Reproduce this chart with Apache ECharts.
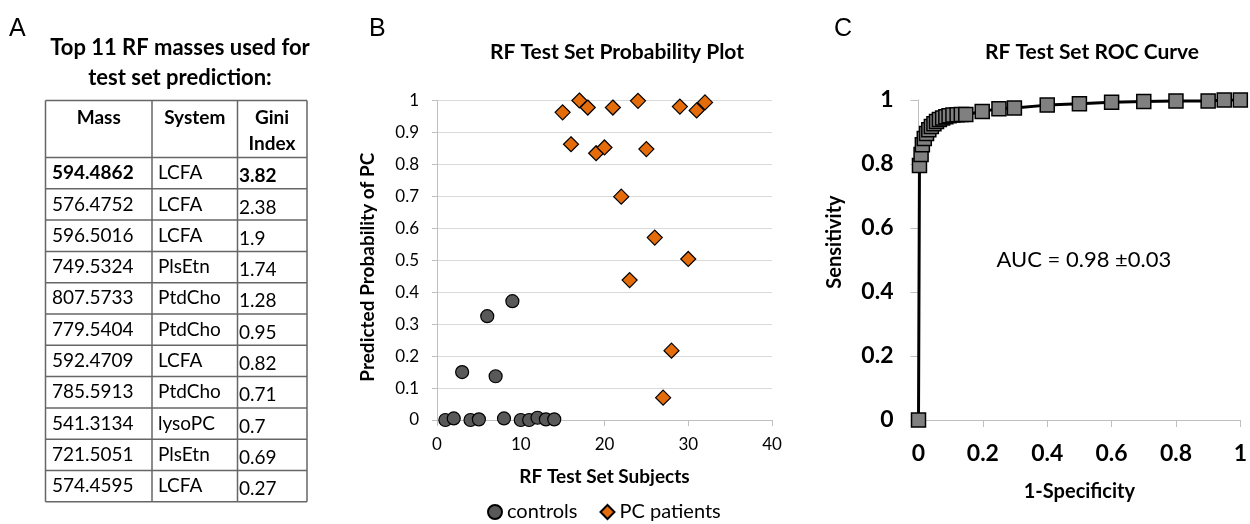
<!DOCTYPE html>
<html>
<head>
<meta charset="utf-8">
<script src="https://cdn.jsdelivr.net/npm/echarts@6/dist/echarts.min.js"></script>
<style>
  html, body { margin: 0; padding: 0; background: #fff; }
  #chart { width: 1250px; height: 524px; }
</style>
</head>
<body>
<div id="chart"></div>
<script>
// panel A table
const massValues = ['594.4862', '576.4752', '596.5016', '749.5324', '807.5733', '779.5404',
  '592.4709', '785.5913', '541.3134', '721.5051', '574.4595']
const systemValues = ['LCFA', 'LCFA', 'LCFA', 'PlsEtn', 'PtdCho', 'PtdCho',
  'LCFA', 'PtdCho', 'lysoPC', 'PlsEtn', 'LCFA']
const giniValues = ['3.82', '2.38', '1.9', '1.74', '1.28', '0.95', '0.82', '0.71', '0.7', '0.69', '0.27']

// panel B: subject index and predicted probability
const controlX = [1, 2, 3, 4, 5, 6, 7, 8, 9, 10, 11, 12, 13, 14]
const controlY = [0, 0.005, 0.15, 0, 0.002, 0.325, 0.137, 0.005, 0.372, 0, 0, 0.007, 0.002, 0.002]
const patientX = [15, 16, 17, 18, 19, 20, 21, 22, 23, 24, 25, 26, 27, 28, 29, 30, 31, 32]
const patientY = [0.963, 0.863, 1.0, 0.978, 0.835, 0.853, 0.978, 0.699, 0.438, 0.999,
  0.848, 0.571, 0.07, 0.217, 0.981, 0.504, 0.969, 0.994]

// panel C: ROC curve
const rocFpr = [0, 0.003, 0.008, 0.012, 0.018, 0.025, 0.032, 0.04, 0.048, 0.056, 0.065, 0.075,
  0.085, 0.095, 0.107, 0.12, 0.133, 0.147, 0.198, 0.25, 0.298, 0.4, 0.5, 0.6, 0.7, 0.8, 0.9, 0.95, 1.0]
const rocTpr = [0, 0.795, 0.83, 0.86, 0.88, 0.895, 0.907, 0.917, 0.926, 0.933, 0.939, 0.944,
  0.948, 0.951, 0.953, 0.954, 0.955, 0.955, 0.964, 0.973, 0.975, 0.984, 0.988, 0.993, 0.995,
  0.997, 0.997, 1.0, 1.0]

const FONT = 'Lato'
const zip = (xs, ys) => xs.map((x, i) => [x, ys[i]])

// build the table out of graphic elements
const buildTable = () => {
  const cols = [45.5, 152, 237.5, 307]
  const top = 100.5
  const headH = 57
  const rowH = 31.3
  const bottom = top + headH + rowH * massValues.length
  const line = { stroke: '#666', lineWidth: 1.5 }
  const els = []
  cols.forEach(x => els.push({ type: 'line', shape: { x1: x, y1: top, x2: x, y2: bottom }, style: line }))
  for (let i = 0; i <= massValues.length + 1; i++) {
    const y = i === 0 ? top : top + headH + rowH * (i - 1)
    els.push({ type: 'line', shape: { x1: cols[0], y1: y, x2: cols[3], y2: y }, style: line })
  }
  const head = (text, x, y) => ({
    type: 'text', x, y,
    style: { text, font: `bold 19px ${FONT}`, fill: '#000', align: 'center', verticalAlign: 'middle' }
  })
  els.push(head('Mass', 98.75, 118), head('System', 194.75, 118), head('Gini', 272, 118), head('Index', 272, 144))
  massValues.forEach((m, i) => {
    const cy = top + headH + rowH * i + rowH / 2
    const bold = i === 0 ? 'bold ' : ''
    const cell = (text, x, dy, b) => ({
      type: 'text', x, y: cy + dy,
      style: { text, font: `${b}19px ${FONT}`, fill: '#000', align: 'left', verticalAlign: 'middle' }
    })
    els.push(cell(m, 52, 0, bold), cell(systemValues[i], 158, 0, ''), cell(giniValues[i], 239, 3, bold))
  })
  const title = (text, y) => ({
    type: 'text', x: 180, y,
    style: { text, font: `bold 22px ${FONT}`, fill: '#000', align: 'center', verticalAlign: 'middle' }
  })
  els.push(title('Top 11 RF masses used for', 48), title('test set prediction:', 78))
  const letter = (text, x) => ({
    type: 'text', x, y: 29,
    style: { text, font: '25px "Liberation Sans"', fill: '#000', align: 'left', verticalAlign: 'middle' }
  })
  els.push(letter('A', 9), letter('B', 369), letter('C', 834))
  return els
}

const chart = echarts.init(document.getElementById('chart'))

const option = {
  animation: false,
  textStyle: { fontFamily: FONT, color: '#000' },
  title: [
    { text: 'RF Test Set Probability Plot', left: 612, top: 37, textAlign: 'center',
      textStyle: { fontFamily: FONT, fontSize: 21, fontWeight: 'bold', color: '#000' } },
    { text: 'RF Test Set ROC Curve', left: 1087, top: 37, textAlign: 'center',
      textStyle: { fontFamily: FONT, fontSize: 21, fontWeight: 'bold', color: '#000' } }
  ],
  legend: {
    data: ['controls', 'PC patients'],
    left: 482, top: 497,
    itemWidth: 14, itemHeight: 14, itemGap: 22,
    textStyle: { fontFamily: FONT, fontSize: 20, color: '#000' }
  },
  grid: [
    { left: 437, right: 478, top: 100.5, bottom: 104 },
    { left: 918.5, right: 3.5, top: 100, bottom: 104 }
  ],
  xAxis: [
    {
      gridIndex: 0, type: 'value', min: 0, max: 40, interval: 10,
      name: 'RF Test Set Subjects', nameLocation: 'middle', nameGap: 47,
      nameTextStyle: { fontSize: 19, fontWeight: 'bold', color: '#000' },
      axisLine: { lineStyle: { color: '#bfbfbf', width: 1 } },
      axisTick: { show: true, length: 6, lineStyle: { color: '#bfbfbf' } },
      axisLabel: { fontSize: 17, color: '#000', margin: 16 },
      splitLine: { show: false }
    },
    {
      gridIndex: 1, type: 'value', min: 0, max: 1, interval: 0.2,
      name: '1-Specificity', nameLocation: 'middle', nameGap: 62,
      nameTextStyle: { fontSize: 20, fontWeight: 'bold', color: '#000' },
      axisLine: { lineStyle: { color: '#bfbfbf', width: 1 } },
      axisTick: { show: true, length: 7, lineStyle: { color: '#bfbfbf' } },
      axisLabel: { fontSize: 23, fontWeight: 'bold', color: '#000', margin: 22 },
      splitLine: { show: false }
    }
  ],
  yAxis: [
    {
      gridIndex: 0, type: 'value', min: 0, max: 1, interval: 0.1,
      name: 'Predicted Probability of PC', nameLocation: 'middle', nameGap: 60,
      nameTextStyle: { fontSize: 19, fontWeight: 'bold', color: '#000', padding: [0, 14, 0, 0] },
      axisLine: { show: true, lineStyle: { color: '#bfbfbf', width: 1 } },
      axisTick: { show: true, length: 5, lineStyle: { color: '#bfbfbf' } },
      axisLabel: { fontSize: 17, color: '#000', margin: 18 },
      splitLine: { show: true, lineStyle: { color: '#d9d9d9', width: 1 } }
    },
    {
      gridIndex: 1, type: 'value', min: 0, max: 1, interval: 0.2,
      name: 'Sensitivity', nameLocation: 'middle', nameGap: 74,
      nameTextStyle: { fontSize: 20, fontWeight: 'bold', color: '#000', padding: [0, 0, 0, 36] },
      axisLine: { show: true, lineStyle: { color: '#bfbfbf', width: 1 } },
      axisTick: { show: true, length: 8, lineStyle: { color: '#bfbfbf' } },
      axisLabel: { fontSize: 23, fontWeight: 'bold', color: '#000', margin: 25 },
      splitLine: { show: false }
    }
  ],
  series: [
    {
      name: 'controls', type: 'scatter', xAxisIndex: 0, yAxisIndex: 0,
      data: zip(controlX, controlY),
      symbol: 'circle', symbolSize: 13,
      itemStyle: { color: '#595959', borderColor: '#000', borderWidth: 1.2, opacity: 1 }
    },
    {
      name: 'PC patients', type: 'scatter', xAxisIndex: 0, yAxisIndex: 0,
      data: zip(patientX, patientY),
      symbol: 'diamond', symbolSize: 15,
      itemStyle: { color: '#e46c0a', borderColor: '#000', borderWidth: 1.2, opacity: 1 }
    },
    {
      name: 'ROC', type: 'line', xAxisIndex: 1, yAxisIndex: 1,
      data: zip(rocFpr, rocTpr),
      symbol: 'rect', symbolSize: 14, showAllSymbol: true,
      lineStyle: { color: '#000', width: 3 },
      itemStyle: { color: '#808080', borderColor: '#000', borderWidth: 1.5 },
      markPoint: {
        symbol: 'circle', symbolSize: 0,
        label: { show: true, position: 'inside', formatter: 'AUC = 0.98 ±0.03',
          fontFamily: FONT, fontSize: 22, color: '#000' },
        data: [{ coord: [0.514, 0.5] }]
      }
    }
  ],
  graphic: buildTable()
}

chart.setOption(option)
</script>
</body>
</html>
